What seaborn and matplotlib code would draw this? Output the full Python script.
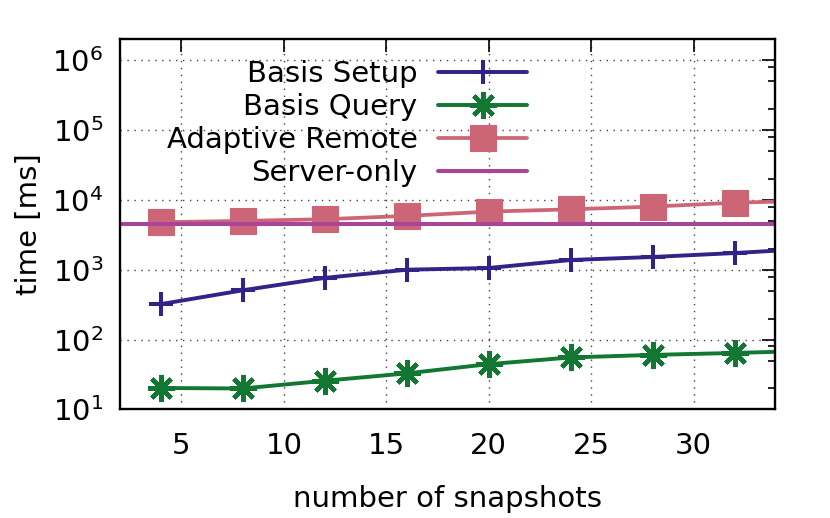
import numpy as np
import pandas as pd
import seaborn as sns
import matplotlib.pyplot as plt
from matplotlib.ticker import LogLocator, MultipleLocator, NullFormatter, NullLocator

## values (x = 36 is just past the right edge)
snapshots = [4, 8, 12, 16, 20, 24, 28, 32, 36]
basis_setup = [323, 510, 767, 1005, 1062, 1384, 1528, 1740, 2030]
basis_query = [20.3, 20.0, 25.8, 32.9, 44.6, 55.6, 60.5, 64.5, 69.5]
adaptive_remote = [4810, 5020, 5310, 5920, 6820, 7360, 8040, 9160, 9780]
server_only = 4600

c_setup = "#332288"
c_query = "#117733"
c_adapt = "#CC6677"
c_server = "#AA4499"

sns.set_style("white")
plt.rcParams['font.family'] = ['DejaVu Sans']
plt.rcParams['mathtext.default'] = 'regular'
for k in ['text.color', 'axes.labelcolor', 'xtick.color', 'ytick.color']:
    plt.rcParams[k] = 'black'
fs = 21

fig = plt.figure(figsize=(8.3, 5.18), dpi=100)
ax = fig.add_axes([0.1446, 0.2095, 0.7897, 0.7145])

sns.lineplot(x=snapshots, y=basis_setup, ax=ax, color=c_setup, lw=2.8,
             marker='+', markersize=17, markeredgewidth=2.9, markeredgecolor=c_setup,
             label="Basis Setup")
sns.lineplot(x=snapshots, y=basis_query, ax=ax, color=c_query, lw=2.8,
             marker=(8, 2, 0), markersize=19.5, markeredgewidth=3.2, markeredgecolor=c_query,
             label="Basis Query")
sns.lineplot(x=snapshots, y=adaptive_remote, ax=ax, color=c_adapt, lw=2.7,
             marker='s', markersize=18.5, markeredgewidth=0.8, markeredgecolor=c_adapt,
             label="Adaptive Remote")
ax.axhline(server_only, color=c_server, lw=2.9, label="Server-only")

ax.set_yscale('log')
ax.set_xlim(2, 34)
ax.set_ylim(10, 2e6)

ax.xaxis.set_major_locator(MultipleLocator(5))
ax.xaxis.set_minor_locator(NullLocator())
ax.yaxis.set_major_locator(LogLocator(base=10, numticks=12))
ax.yaxis.set_minor_locator(LogLocator(base=10, subs=(2, 5, 8), numticks=12))
ax.yaxis.set_minor_formatter(NullFormatter())

ax.tick_params(which='both', direction='in', top=True, right=True, labelsize=fs, width=1.2, color='black')
ax.tick_params(which='major', length=9.5)
ax.tick_params(which='minor', length=5)
ax.tick_params(axis='x', pad=16)
ax.tick_params(axis='y', pad=12)

for s in ax.spines.values():
    s.set_linewidth(1.7)
    s.set_color('black')

ax.grid(True, which='major', color='0.25', linestyle=(0, (1, 4)), linewidth=1.0)
ax.set_axisbelow(True)

ax.set_xlabel("number of snapshots", fontsize=fs, labelpad=18)
ax.set_ylabel("time [ms]", fontsize=fs, labelpad=7)

ax.legend(loc='upper right', bbox_to_anchor=(527 / 830, 1 - 60 / 518),
          bbox_transform=fig.transFigure, frameon=False, markerfirst=False,
          fontsize=fs, handlelength=3.05, handletextpad=0.7, labelspacing=0.17,
          borderpad=0, borderaxespad=0)

fig.savefig("out.png", dpi=100)
